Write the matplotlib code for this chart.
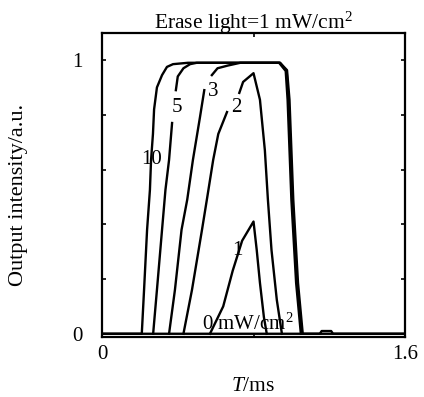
import numpy as np
import matplotlib
matplotlib.use('Agg')
import matplotlib.pyplot as plt

plt.rcParams['font.family'] = ['Liberation Serif', 'DejaVu Serif']
plt.rcParams['mathtext.fontset'] = 'custom'
plt.rcParams['mathtext.rm'] = 'Liberation Serif'
plt.rcParams['mathtext.it'] = 'Liberation Serif:italic'

# Curves (T in ms, output intensity in a.u.)
# nan marks a break in the trace where the label sits
t10 = [0, 0.21, 0.222, 0.238, 0.253, 0.259, 0.269, 0.275, 0.29, 0.317, 0.343, 0.375, 0.454,
       0.94, 0.977, 0.99, 1.01, 1.035, 1.06, 1.6]
y10 = [0, 0, 0.16, 0.38, 0.526, 0.635, 0.73, 0.82, 0.90, 0.945, 0.975, 0.985, 0.99,
       0.99, 0.963, 0.855, 0.49, 0.186, 0, 0]

t5 = [0.27, 0.29, 0.317, 0.335, 0.354, 0.37, np.nan, 0.39, 0.40, 0.43, 0.465, 0.50,
      0.94, 0.975, 0.985, 1.005, 1.03, 1.055]
y5 = [0, 0.16, 0.38, 0.526, 0.635, 0.77, np.nan, 0.89, 0.94, 0.97, 0.985, 0.99,
      0.99, 0.96, 0.855, 0.49, 0.186, 0]

t3 = [0.354, 0.385, 0.42, 0.45, 0.48, 0.517, 0.54, np.nan, 0.58, 0.61, 0.665, 0.73,
      0.935, 0.97, 0.98, 1.0, 1.025, 1.05]
y3 = [0, 0.16, 0.38, 0.49, 0.635, 0.79, 0.89, np.nan, 0.945, 0.97, 0.98, 0.99,
      0.99, 0.96, 0.855, 0.49, 0.186, 0]

t2 = [0.43, 0.475, 0.528, 0.556, 0.587, 0.614, 0.66, np.nan, 0.725, 0.745, 0.80,
      0.834, 0.86, 0.876, 0.895, 0.923, 0.95]
y2 = [0, 0.16, 0.38, 0.50, 0.635, 0.73, 0.81, np.nan, 0.88, 0.92, 0.952,
      0.855, 0.67, 0.49, 0.306, 0.124, 0]

t1 = [0.57, 0.64, 0.69, 0.74, 0.80, 0.817, 0.834, 0.855, 0.87]
y1 = [0, 0.10, 0.23, 0.34, 0.41, 0.306, 0.186, 0.06, 0]

t0 = [0, 1.15, 1.16, 1.21, 1.22, 1.6]
y0 = [0, 0, 0.01, 0.01, 0, 0]

labels = ['10', '5', '3', '2', '1', '0 mW/cm$^2$']
label_xy = [(0.264, 0.635), (0.395, 0.825), (0.585, 0.885), (0.707, 0.825), (0.717, 0.306), (0.77, 0.036)]

fig = plt.figure(figsize=(4.24, 3.97), dpi=100)
ax = fig.add_axes([0.2406, 0.151, 0.7146, 0.766])

for t, y in [(t10, y10), (t5, y5), (t3, y3), (t2, y2), (t1, y1), (t0, y0)]:
    ax.plot(t, y, color='k', lw=1.7, solid_joinstyle='round')

for s, (x, y) in zip(labels, label_xy):
    ax.text(x, y, s, fontsize=15, ha='center', va='center')

ax.set_xlim(0, 1.6)
ax.set_ylim(-0.012, 1.099)
ax.set_xticks([0, 0.8, 1.6])
ax.set_xticklabels(['0', '', '1.6'])
ax.set_yticks([0, 0.2, 0.4, 0.6, 0.8, 1.0])
ax.set_yticklabels(['0', '', '', '', '', '1'])
ax.tick_params(direction='in', length=3, width=1.2, top=True, right=True, labelsize=15)
ax.tick_params(axis='y', pad=14)
ax.tick_params(axis='x', pad=6)
for sp in ax.spines.values():
    sp.set_linewidth(1.6)

ax.set_title('Erase light=1 mW/cm$^2$', fontsize=15.5, pad=3)
ax.set_xlabel('$T$/ms', fontsize=15.5, labelpad=9)
ax.set_ylabel('Output intensity/a.u.', fontsize=16)
ax.yaxis.set_label_coords(-0.244, 0.467)

fig.savefig('out.png', dpi=100)
